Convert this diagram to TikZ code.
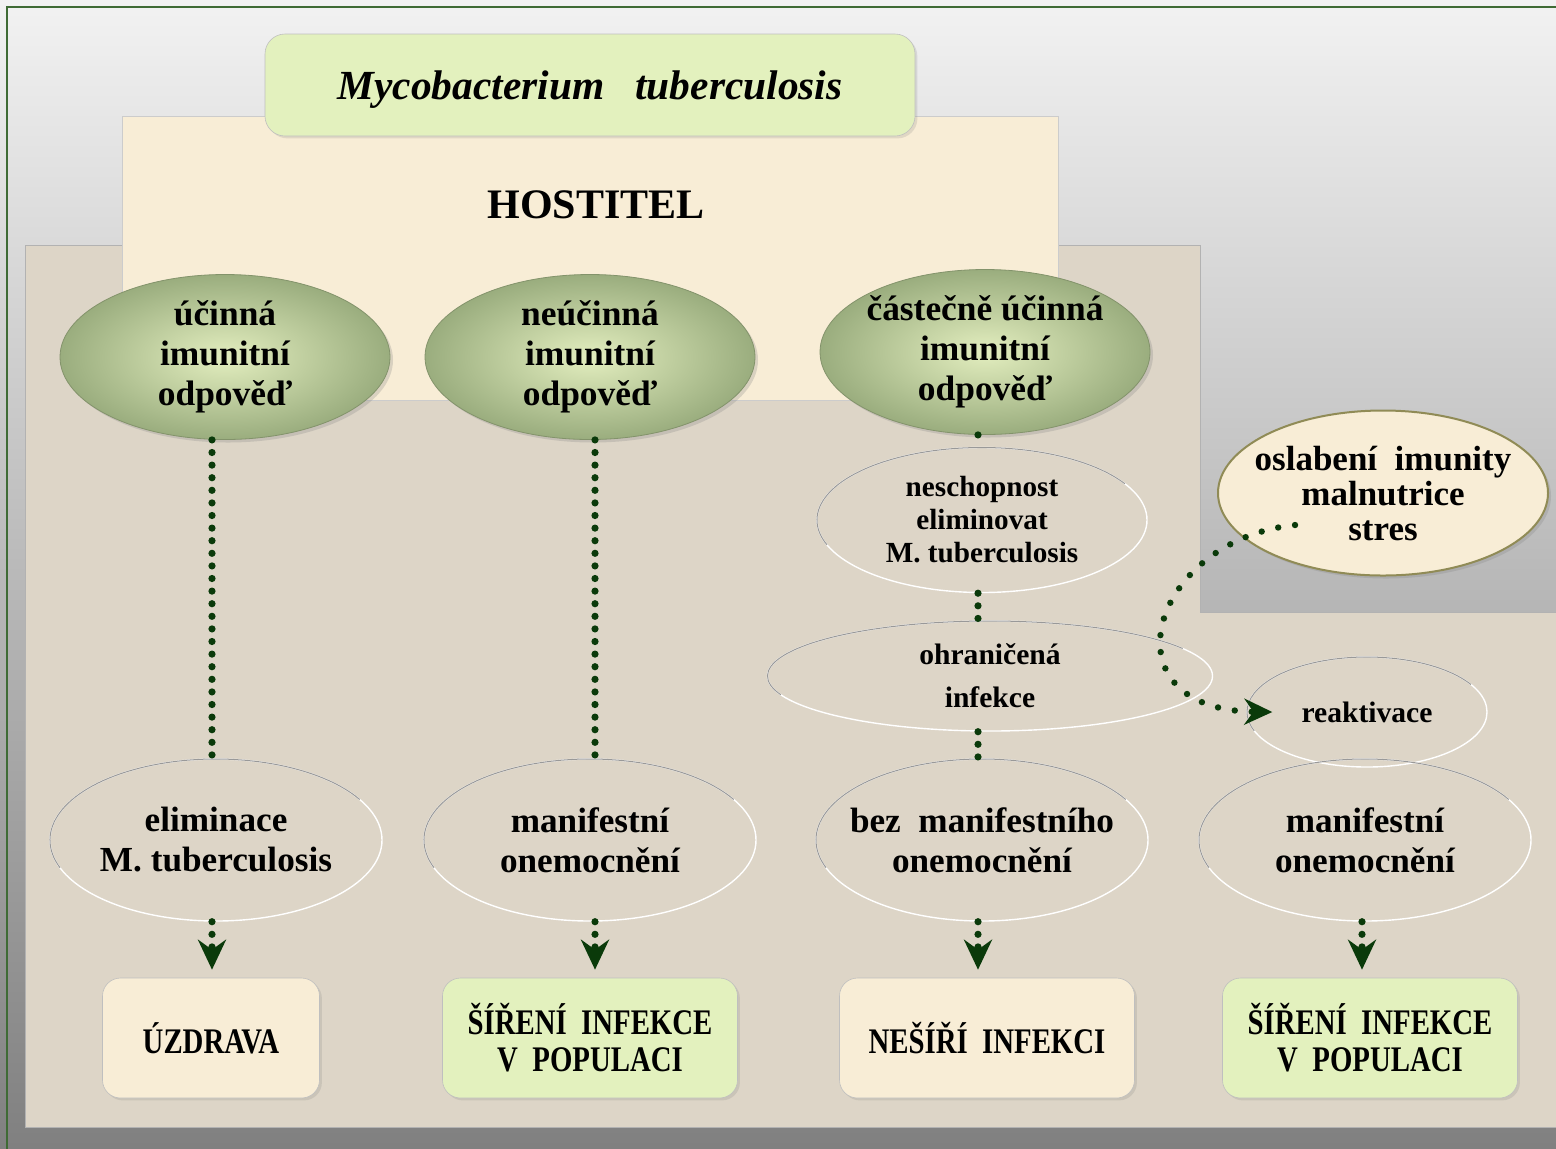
\documentclass[tikz,border=0pt]{standalone}
\usepackage{fontspec}
\setmainfont{Liberation Serif}
\newfontfamily\condfont[FakeStretch=0.8]{Liberation Serif}
\usetikzlibrary{shapes.geometric,arrows.meta,shadows}

\definecolor{bgtop}{HTML}{F2F2F2}
\definecolor{bgbot}{HTML}{808080}
\definecolor{paper}{HTML}{DDD5C7}
\definecolor{cream}{HTML}{F8EDD6}
\definecolor{leaf}{HTML}{E3F1BE}
\definecolor{moss}{HTML}{9AAD7E}
\definecolor{mossl}{HTML}{E3EEBF}
\definecolor{pine}{HTML}{0A3A0A}
\definecolor{rim}{HTML}{3F6B35}

\begin{document}
\begin{tikzpicture}[x=0.5pt,y=-0.5pt,
        gsty/.style={ellipse,inner sep=-8pt,minimum width=165pt,minimum height=82.5pt,
            inner color=mossl,outer color=moss,draw=moss!85!black,line width=0.4pt,align=center,
            drop shadow={opacity=0.25,shadow xshift=1.5pt,shadow yshift=-1.5pt},
            font=\bfseries\fontsize{17.7}{20}\selectfont},
        rsty/.style={ellipse,inner sep=-8pt,draw=white,line width=0.7pt,align=center,
            font=\bfseries\fontsize{17.6}{20}\selectfont},
        bsty/.style={rounded corners=9pt,minimum height=60pt,minimum width=147.5pt,align=center,
            draw=black!25,line width=0.3pt,
            drop shadow={opacity=0.2,shadow xshift=1.2pt,shadow yshift=-1.2pt},
            font=\condfont\bfseries\fontsize{18}{18.5}\selectfont},
        dsty/.style={pine,line width=3.6pt,line cap=round,dash pattern=on 0pt off 6.3pt},
        asty/.style={dsty,-{Stealth[length=15pt,width=14pt,inset=5pt]},shorten >=4pt},
        ]

    % background and panels
    \useasboundingbox (0,0) rectangle (1556,1148);
    \clip (0,0) rectangle (1556,1148);
    \fill[top color=bgtop,bottom color=bgbot] (0,0) rectangle (1556,1148);
    \draw[rim,line width=1.2pt] (7,7) rectangle (1590,1190);
    \filldraw[paper,draw=black!30,line width=0.3pt] (25,245) -- (1200,245) -- (1200,612) -- (1556,612) -- (1556,1127) -- (25,1127) -- cycle;
    \filldraw[cream,draw=black!20,line width=0.3pt] (122,116) rectangle (1058,400);

    \node[bsty,fill=leaf,rounded corners=10pt,minimum width=325pt,minimum height=51pt,text depth=0pt,
        font=\bfseries\itshape\fontsize{20.7}{24}\selectfont] (myco) at (590,85) {Mycobacterium\hspace{0.75em}tuberculosis};
    \node[font=\bfseries\fontsize{21}{24}\selectfont] (host) at (596,205) {HOSTITEL};

    \node[gsty] (g1) at (225,357) {účinná\\imunitní\\odpověď};
    \node[gsty] (g2) at (590,357) {neúčinná\\imunitní\\odpověď};
    \node[gsty] (g3) at (985,352) {částečně účinná\\imunitní\\odpověď};

    \node[rsty,minimum width=165pt,minimum height=72.5pt,font=\bfseries\fontsize{14.6}{16.5}\selectfont] (nes) at (982,520) {neschopnost\\eliminovat\\M. tuberculosis};
    \node[rsty,minimum width=222.5pt,minimum height=55pt,font=\bfseries\fontsize{14.8}{21.5}\selectfont] (ohr) at (990,676) {ohraničená\\infekce};
    \node[rsty,minimum width=120pt,minimum height=55pt,font=\bfseries\fontsize{14.8}{17}\selectfont] (rea) at (1367,712) {reaktivace};
    \node[ellipse,inner sep=-8pt,minimum width=165pt,minimum height=82.5pt,fill=cream,draw=olive!40!gray,line width=1pt,align=center,
        drop shadow={opacity=0.25,shadow xshift=1.5pt,shadow yshift=-1.5pt},
        font=\bfseries\fontsize{17.5}{17.5}\selectfont] (osl) at (1383,493) {oslabení~ imunity\\malnutrice\\stres};

    \node[rsty,minimum width=166pt,minimum height=81pt] (b1) at (216,840) {eliminace\\M. tuberculosis};
    \node[rsty,minimum width=166pt,minimum height=81pt] (b2) at (590,840) {manifestní\\onemocnění};
    \node[rsty,minimum width=166pt,minimum height=81pt] (b3) at (982,840) {bez~ manifestního\\onemocnění};
    \node[rsty,minimum width=166pt,minimum height=81pt] (b4) at (1365,840) {manifestní\\onemocnění};

    % upper rim of the open ovals
    \foreach \n/\rx/\ry in {nes/82.5pt/36.25pt,ohr/111.25pt/27.5pt,rea/60pt/27.5pt,
            b1/83pt/40.5pt,b2/83pt/40.5pt,b3/83pt/40.5pt,b4/83pt/40.5pt}
        \draw[black!40,line width=0.5pt] ([shift={(30:{\rx} and {\ry})}]\n.center)
            arc[start angle=30,end angle=200,x radius=\rx,y radius=\ry];

    \node[bsty,fill=cream,minimum width=108.5pt] (u1) at (211,1038) {ÚZDRAVA};
    \node[bsty,fill=leaf] (u2) at (590,1038) {ŠÍŘENÍ~ INFEKCE\\V~ POPULACI};
    \node[bsty,fill=cream] (u3) at (987,1038) {NEŠÍŘÍ~ INFEKCI};
    \node[bsty,fill=leaf] (u4) at (1370,1038) {ŠÍŘENÍ~ INFEKCE\\V~ POPULACI};

    \coordinate (c1) at (212,0);
    \coordinate (c2) at (595,0);
    \coordinate (c3) at (978,0);
    \coordinate (c4) at (1362,0);

    \draw[dsty] (g1.south -| c1) -- (b1.north -| c1);
    \draw[dsty] (g2.south -| c2) -- (b2.north -| c2);
    \draw[dsty] (g3.south -| c3) -- (nes.north -| c3);
    \draw[dsty] (nes.south -| c3) -- (ohr.north -| c3);
    \draw[dsty] (ohr.south -| c3) -- (b3.north -| c3);
    \foreach \i in {1,...,4}
        \draw[asty] (b\i.south -| c\i) -- (u\i.north -| c\i);

    \draw[dsty,line width=3.2pt,dash pattern=on 0pt off 8.5pt,-{Stealth[length=14pt,width=13pt]}]
        ([shift={(-44pt,-16pt)}]osl.center) .. controls (1150,540) and (1100,710) .. ([xshift=13pt]rea.west);

\end{tikzpicture}
\end{document}
